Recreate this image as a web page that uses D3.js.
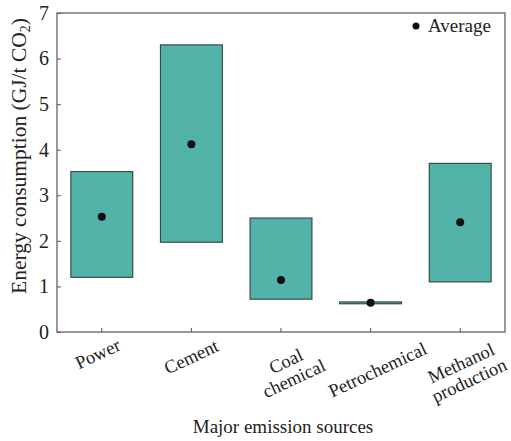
<!DOCTYPE html>
<html><head><meta charset="utf-8">
<script src="https://cdn.jsdelivr.net/npm/d3@7"></script>
<style>body{margin:0;background:#fff} text{font-family:"Liberation Serif","Times New Roman",serif}</style>
</head><body>
<svg id="c" width="511" height="441"></svg>
<script>
const categories = ["Power", "Cement", "Coal\nchemical", "Petrochemical", "Methanol\nproduction"];
const lowValues = [1.2, 1.97, 0.72, 0.62, 1.1];
const highValues = [3.52, 6.3, 2.5, 0.66, 3.7];
const averages = [2.53, 4.12, 1.14, 0.64, 2.41];
const yTicks = [0, 1, 2, 3, 4, 5, 6, 7];

const svg = d3.select("#c");
const m = {l: 57, r: 6, t: 13, b: 109};
const W = 511, H = 441;
const x = d3.scaleBand().domain(categories).range([m.l, W - m.r]).paddingInner(0.31).paddingOuter(0.155);
const y = d3.scaleLinear().domain([0, 7]).range([H - m.b, m.t]);
const font = '"Liberation Serif", "Times New Roman", serif';

// frame
svg.append("rect").attr("x", m.l).attr("y", m.t).attr("width", W - m.r - m.l).attr("height", y(0) - m.t)
  .attr("fill", "none").attr("stroke", "#555").attr("stroke-width", 1.2);

// bars
svg.selectAll("rect.bar").data(categories).enter().append("rect").attr("class", "bar")
  .attr("x", d => x(d)).attr("width", x.bandwidth())
  .attr("y", (d, i) => y(highValues[i])).attr("height", (d, i) => y(lowValues[i]) - y(highValues[i]))
  .attr("fill", "#52b4a9").attr("stroke", "#3a4a48").attr("stroke-width", 1.2);

// averages
svg.selectAll("circle.avg").data(categories).enter().append("circle").attr("class", "avg")
  .attr("cx", d => x(d) + x.bandwidth() / 2).attr("cy", (d, i) => y(averages[i])).attr("r", 4)
  .attr("fill", "#111");

// y axis
const ya = svg.append("g").attr("transform", `translate(${m.l},0)`)
  .call(d3.axisLeft(y).tickValues(yTicks).tickFormat(d3.format("d")).tickSizeInner(-4).tickSizeOuter(0).tickPadding(8));
ya.attr("font-family", font).attr("font-size", 20);
ya.select(".domain").remove();
ya.selectAll("line").attr("stroke", "#555");
ya.selectAll("text").attr("fill", "#222");

// x axis
const xa = svg.append("g").attr("transform", `translate(0,${y(0)})`)
  .call(d3.axisBottom(x).tickSizeInner(-4).tickSizeOuter(0).tickFormat(""));
xa.select(".domain").remove();
xa.selectAll("line").attr("stroke", "#555");

// x labels
const lbl = svg.append("g");
const centersY = [354, 357, 370, 370, 372];
const offX = [-4, 0, 9, 7, 5];
categories.forEach((c, i) => {
  const lines = c.split("\n");
  const cx = x(c) + x.bandwidth() / 2 + offX[i], cy = centersY[i];
  const t = lbl.append("text").attr("transform", `translate(${cx},${cy}) rotate(-25)`)
    .attr("text-anchor", "middle").attr("font-family", font).attr("font-size", 18.5).attr("fill", "#222");
  lines.forEach((ln, j) => {
    t.append("tspan").attr("x", 0).attr("dy", j === 0 ? (6 - (lines.length - 1) * 9.5) : 19).text(ln);
  });
});

// axis titles
svg.append("text").attr("x", 283).attr("y", 433).attr("text-anchor", "middle")
  .attr("font-family", font).attr("font-size", 19).attr("fill", "#222").text("Major emission sources");
const yt = svg.append("text").attr("transform", `translate(26,156) rotate(-90)`)
  .attr("text-anchor", "middle").attr("font-family", font).attr("font-size", 21.5).attr("fill", "#222");
yt.append("tspan").text("Energy consumption (GJ/t CO");
yt.append("tspan").attr("font-size", 14).attr("dy", 4).text("2");
yt.append("tspan").attr("dy", -4).text(")");

// legend
svg.append("circle").attr("cx", 416).attr("cy", 26).attr("r", 3.5).attr("fill", "#111");
svg.append("text").attr("x", 428).attr("y", 32).attr("font-family", font).attr("font-size", 19)
  .attr("fill", "#222").text("Average");
</script>
</body></html>
